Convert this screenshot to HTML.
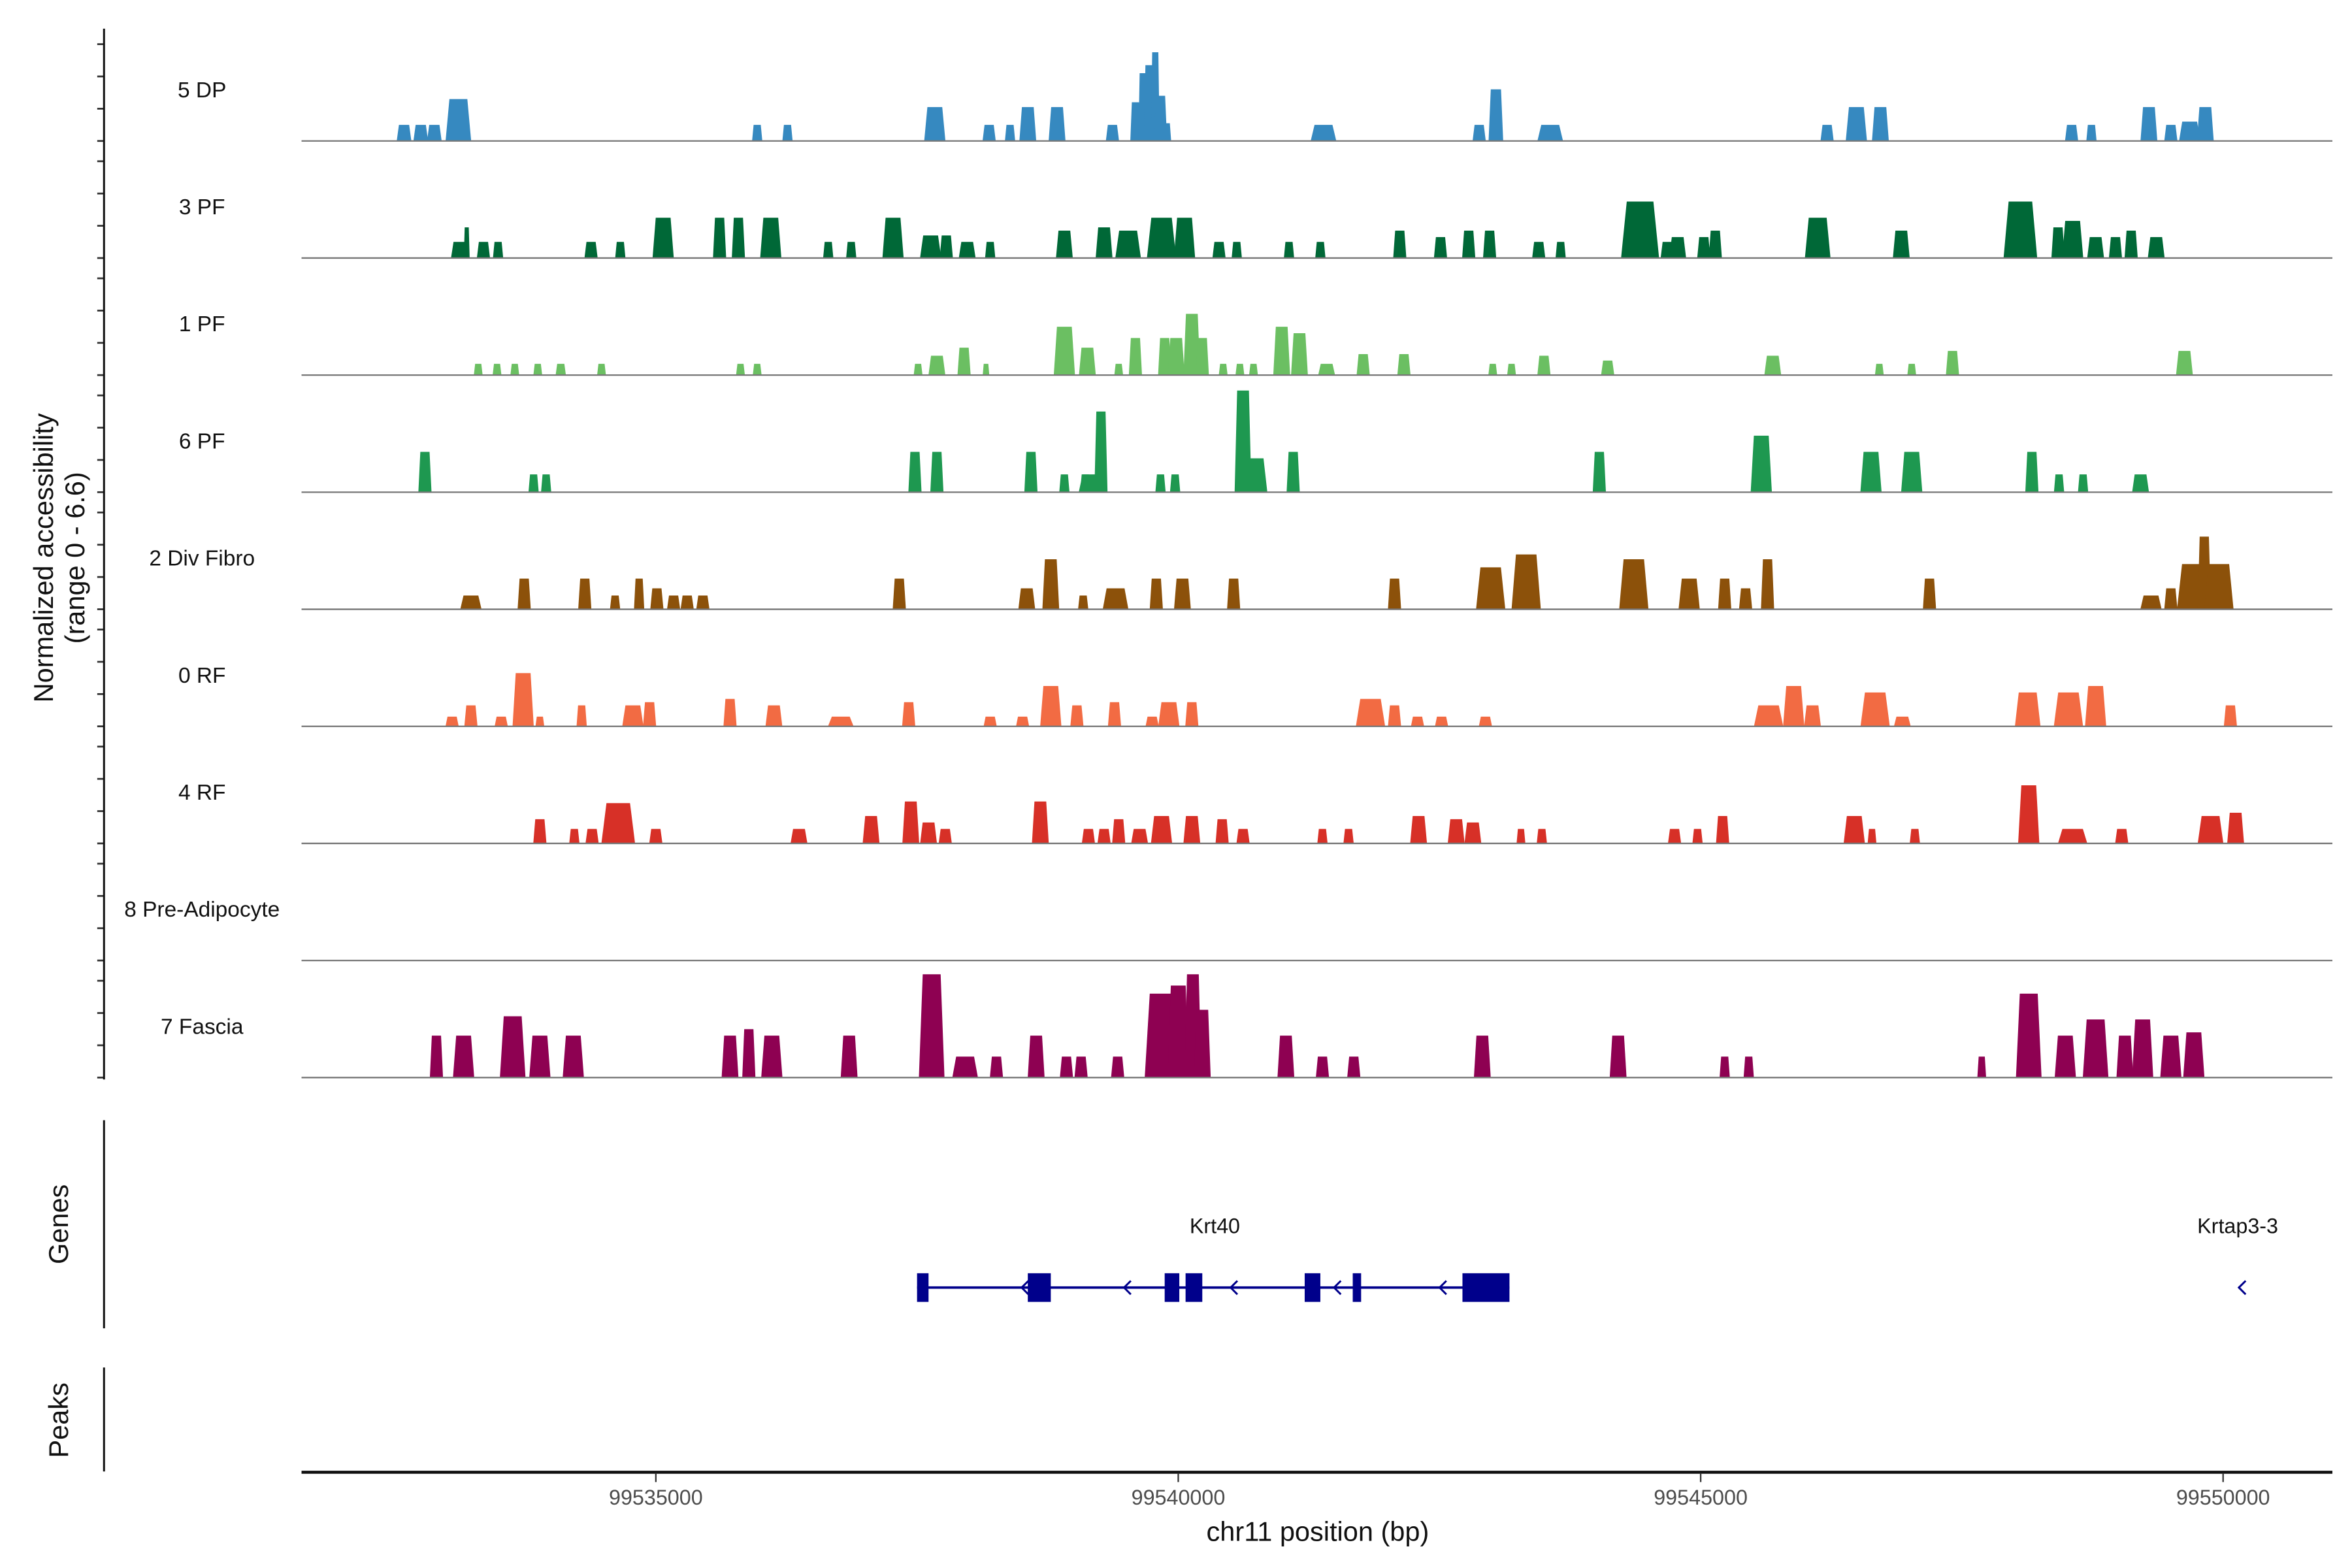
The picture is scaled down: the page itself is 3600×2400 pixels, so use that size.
<!DOCTYPE html>
<html><head><meta charset="utf-8">
<style>
html,body{margin:0;padding:0;background:#fff;}
svg{display:block;font-family:"Liberation Sans",sans-serif;}
</style></head>
<body>
<svg id="chart" width="3600" height="2400" viewBox="0 0 1560 1040" preserveAspectRatio="none" xmlns="http://www.w3.org/2000/svg">
<g id="tracks"></g>
<g id="genes"></g>
<g id="axes"></g>
</svg>
<script>
// ---- data ----
const trackNames = ["5 DP","3 PF","1 PF","6 PF","2 Div Fibro","0 RF","4 RF","8 Pre-Adipocyte","7 Fascia"];
const trackColors = ["#3689c0","#006837","#6bbf62","#1e9850","#8c510a","#f26b43","#d73027","#999999","#8e0152"];
// peak centers in kb offset from 99530000
const pos5DP = [2.59,2.75,2.88,3.11,5.97,6.26,7.67,8.19,8.39,8.56,8.84,9.37,9.59,9.66,9.72,9.78,9.83,9.89,11.39,12.88,13.04,13.56,16.21,16.49,16.72,18.55,18.74,19.29,19.50,19.68,19.83];
const wid5DP = [100,100,100,175,70,70,145,90,70,115,115,90,70,60,70,60,90,60,175,90,100,175,90,145,115,90,70,115,90,145,115];
const val5DP = [1.0,1.0,1.0,2.6,1.0,1.0,2.1,1.0,1.0,2.1,2.1,1.0,2.4,4.2,4.7,5.5,2.8,1.1,1.0,1.0,3.2,1.0,1.0,2.1,2.1,1.0,1.0,2.1,1.0,1.2,2.1];

const pos3PF = [3.12,3.19,3.35,3.49,4.38,4.66,5.07,5.61,5.79,6.10,6.65,6.87,7.27,7.63,7.78,7.98,8.20,8.91,9.29,9.52,9.84,10.06,10.39,10.56,11.06,11.36,12.12,12.51,12.78,12.98,13.45,13.66,14.42,14.68,14.78,15.03,15.14,16.12,16.92,18.06,18.42,18.56,18.78,18.97,19.12,19.36];
const wid3PF = [115,40,90,70,90,70,145,90,90,145,70,70,145,145,90,115,70,115,115,175,200,145,90,70,70,70,90,90,90,90,90,70,260,90,115,90,90,175,115,230,90,145,115,90,90,115];
const val3PF = [1.0,1.9,1.0,1.0,1.0,1.0,2.5,2.5,2.5,2.5,1.0,1.0,2.5,1.4,1.4,1.0,1.0,1.7,1.9,1.7,2.5,2.5,1.0,1.0,1.0,1.0,1.7,1.3,1.7,1.7,1.0,1.0,3.5,1.0,1.3,1.3,1.7,2.5,1.7,3.5,1.9,2.3,1.3,1.3,1.7,1.3];

const pos1PF = [3.30,3.48,3.65,3.87,4.09,4.48,5.81,5.97,7.51,7.69,7.95,8.16,8.91,9.13,9.43,9.59,9.87,9.98,10.13,10.23,10.43,10.59,10.72,10.99,11.16,11.42,11.77,12.16,13.01,13.19,13.50,14.11,15.69,16.71,17.02,17.41,19.63];
const wid1PF = [60,60,60,60,70,60,60,60,60,115,90,45,145,115,60,90,90,115,115,90,60,60,60,115,115,115,90,90,60,60,90,90,115,60,60,90,115];
const val1PF = [0.7,0.7,0.7,0.7,0.7,0.7,0.7,0.7,0.7,1.2,1.7,0.7,3.0,1.7,0.7,2.3,2.3,2.3,3.8,2.3,0.7,0.7,0.7,3.0,2.6,0.7,1.3,1.3,0.7,0.7,1.2,0.9,1.2,0.7,0.7,1.5,1.5];

const pos6PF = [2.79,3.83,3.95,7.48,7.69,8.59,8.91,9.11,9.17,9.26,9.83,9.97,10.62,10.73,11.10,14.03,15.58,16.63,17.02,18.17,18.43,18.66,19.21];
const wid6PF = [90,70,70,90,90,90,70,70,175,90,70,70,115,175,90,90,145,145,145,90,70,70,115];
const val6PF = [2.5,1.1,1.1,2.5,2.5,2.5,1.1,1.1,1.1,5.0,1.1,1.1,6.3,2.1,2.5,2.5,3.5,2.5,2.5,2.5,1.1,1.1,1.1];

const posDF = [3.23,3.74,4.32,4.61,4.84,5.01,5.17,5.30,5.45,7.33,8.55,8.78,9.09,9.40,9.79,10.04,10.53,12.07,12.99,13.33,14.36,14.89,15.23,15.43,15.64,17.19,19.31,19.50,19.72,19.82,19.96];
const widDF = [145,90,90,70,70,90,90,90,90,90,115,115,70,175,90,115,90,90,200,200,200,145,90,90,90,90,145,90,230,90,200];
const valDF = [0.85,1.9,1.9,0.85,1.9,1.3,0.85,0.85,0.85,1.9,1.3,3.1,0.85,1.3,1.9,1.9,1.9,1.9,2.6,3.4,3.1,1.9,1.9,1.3,3.1,1.9,0.85,1.3,2.8,4.5,2.8];

const pos0RF = [3.05,3.23,3.52,3.73,3.89,4.29,4.78,4.94,5.71,6.13,6.77,7.42,8.20,8.51,8.78,9.03,9.39,9.75,9.91,10.13,11.84,12.07,12.29,12.52,12.94,15.65,15.89,16.07,16.67,16.93,18.13,18.52,18.78,20.07];
const wid0RF = [90,90,90,145,60,70,145,90,90,115,175,90,90,90,145,90,90,90,145,90,200,90,90,90,90,200,145,115,200,115,175,200,145,90];
const val0RF = [0.6,1.3,0.6,3.3,0.6,1.3,1.3,1.5,1.7,1.3,0.6,1.5,0.6,0.6,2.5,1.3,1.5,0.6,1.5,1.5,1.7,1.3,0.6,0.6,0.6,1.3,2.5,1.3,2.1,0.6,2.1,2.1,2.5,1.3];

const pos4RF = [3.89,4.22,4.39,4.64,5.00,6.37,7.06,7.44,7.61,7.77,8.68,9.14,9.29,9.43,9.63,9.84,10.13,10.42,10.62,11.38,11.63,12.30,12.66,12.82,13.28,13.48,14.75,14.97,15.21,16.47,16.64,17.05,18.14,18.56,19.03,19.88,20.12];
const wid4RF = [90,70,90,230,90,115,115,115,115,90,115,90,90,90,115,145,115,90,90,70,70,115,115,115,60,70,90,70,90,145,60,70,145,200,90,175,115];
const val4RF = [1.5,0.9,0.9,2.5,0.9,0.9,1.7,2.6,1.3,0.9,2.6,0.9,0.9,1.5,0.9,1.7,1.7,1.5,0.9,0.9,0.9,1.7,1.5,1.3,0.9,0.9,0.9,0.9,1.7,1.7,0.9,0.9,3.6,0.9,0.9,1.7,1.9];

const posPA = [];
const widPA = [];
const valPA = [];

const posFA = [2.90,3.16,3.63,3.89,4.21,5.71,5.89,6.11,6.85,7.64,7.96,8.26,8.64,8.93,9.07,9.42,9.84,10.00,10.14,10.23,11.03,11.38,11.68,12.91,14.21,15.23,15.46,17.69,18.14,18.49,18.78,19.06,19.23,19.50,19.72];
const widFA = [90,145,175,145,145,115,90,145,115,175,175,90,115,90,90,90,230,145,115,115,115,90,90,115,115,70,70,60,175,145,175,115,145,145,145];
const valFA = [2.6,2.6,3.8,2.6,2.6,2.6,3.0,2.6,2.6,6.4,1.3,1.3,2.6,1.3,1.3,1.3,5.2,5.7,6.4,4.2,2.6,1.3,1.3,2.6,2.6,1.3,1.3,1.3,5.2,2.6,3.6,2.6,3.6,2.6,2.8];

const trackPos = [pos5DP,pos3PF,pos1PF,pos6PF,posDF,pos0RF,pos4RF,posPA,posFA];
const trackWid = [wid5DP,wid3PF,wid1PF,wid6PF,widDF,wid0RF,wid4RF,widPA,widFA];
const trackVal = [val5DP,val3PF,val1PF,val6PF,valDF,val0RF,val4RF,valPA,valFA];

const xTicks = [99535000,99540000,99545000,99550000];
const yTickVals = [0,2,4,6];
const exonStart = [7.50,8.56,9.87,10.07,11.21,11.67,12.72];
const exonEnd = [7.61,8.78,10.01,10.23,11.36,11.75,13.17];
const chevronPos = [8.53,9.51,10.53,11.52,12.53];
const geneLabels = ["Krt40","Krtap3-3"];
const geneLabelPos = [10.35,20.14];
const krtapChevron = [20.18];

// ---- scales ----
const NS="http://www.w3.org/2000/svg";
const ORIGIN = 99530000;
function xs(kb){ return 435 + (kb-5)*69.3; }
function xsBp(bp){ return xs((bp-ORIGIN)/1000); }
const PXUNIT = 10.7;
const WIDEN = 1.4;
function baseY(i){ return 93.5 + i*77.65; }
function mk(tag, attrs, parent){
  const e=document.createElementNS(NS,tag);
  for(const k in attrs) e.setAttribute(k,attrs[k]);
  parent.appendChild(e); return e;
}
const gT=document.getElementById('tracks');
const gG=document.getElementById('genes');
const gA=document.getElementById('axes');

// tracks
for(let i=0;i<trackNames.length;i++){
  const by=baseY(i);
  const lab=mk('text',{x:134,y:by-29,'text-anchor':'middle','font-size':14.5,fill:'#111'},gT);
  lab.textContent=trackNames[i];
  
  
  const ps=trackPos[i], ws=trackWid[i], vs=trackVal[i];
  for(let j=0;j<ps.length;j++){
    const cx=xs(ps[j]), hw=WIDEN*ws[j]/1000*69.3/2, h=vs[j]*PXUNIT;
    const pts=[[cx-hw,by],[cx-hw*0.7,by-h],[cx+hw*0.7,by-h],[cx+hw,by]].map(p=>p.join(',')).join(' ');
    const pk=mk('polygon',{points:pts,fill:trackColors[i]},gT);
    
    
  }
  const bl=mk('line',{x1:200,x2:1547,y1:by,y2:by,stroke:'#777','stroke-width':1},gT);
  
  
  for(const t of yTickVals){
    const ty=by-t*PXUNIT;
    const tk=mk('line',{x1:64.5,x2:69,y1:ty,y2:ty,stroke:'#333','stroke-width':1.2},gA);
    
    
  }
}
// y axis lines
let ax=mk('line',{x1:69,x2:69,y1:19,y2:716,stroke:'#111','stroke-width':1.3},gA);
 
ax=mk('line',{x1:69,x2:69,y1:743,y2:881,stroke:'#111','stroke-width':1.3},gA);
 
ax=mk('line',{x1:69,x2:69,y1:907,y2:976,stroke:'#111','stroke-width':1.3},gA);
 

let t=mk('text',{x:0,y:0,'text-anchor':'middle','font-size':18,fill:'#111',transform:'translate(35,370) rotate(-90)'},gA);
t.textContent='Normalized accessibility';
 
t=mk('text',{x:0,y:0,'text-anchor':'middle','font-size':18,fill:'#111',transform:'translate(56,370) rotate(-90)'},gA);
t.textContent='(range 0 - 6.6)';
 
t=mk('text',{x:0,y:0,'text-anchor':'middle','font-size':18,fill:'#111',transform:'translate(45,812) rotate(-90)'},gA);
t.textContent='Genes';
 
t=mk('text',{x:0,y:0,'text-anchor':'middle','font-size':18,fill:'#111',transform:'translate(45,942) rotate(-90)'},gA);
t.textContent='Peaks';
 

// x axis
ax=mk('line',{x1:200,x2:1547,y1:976.5,y2:976.5,stroke:'#111','stroke-width':2},gA);
 
for(const v of xTicks){
  const x=xsBp(v);
  const tk=mk('line',{x1:x,x2:x,y1:977,y2:983,stroke:'#333','stroke-width':1},gA);
   
  const tl=mk('text',{x:x,y:998,'text-anchor':'middle','font-size':14,fill:'#4d4d4d'},gA);
  tl.textContent=String(v);
   
}
t=mk('text',{x:874,y:1022,'text-anchor':'middle','font-size':18,fill:'#111'},gA);
t.textContent='chr11 position (bp)';
 

// genes
const GY=854;
let gl=mk('line',{x1:xs(exonStart[0]),x2:xs(exonEnd[exonEnd.length-1]),y1:GY,y2:GY,stroke:'#00008b','stroke-width':1.6},gG);
 
for(let k=0;k<exonStart.length;k++){
  const x1=xs(exonStart[k]), x2=xs(exonEnd[k]);
  const r=mk('rect',{x:x1,y:GY-9.5,width:Math.max(x2-x1,2),height:19,fill:'#00008b'},gG);
   
}
for(const c of chevronPos.concat(krtapChevron)){
  const x=xs(c);
  const p=mk('polyline',{points:`${x+2.5},${GY-4.5} ${x-2},${GY} ${x+2.5},${GY+4.5}`,fill:'none',stroke:'#00008b','stroke-width':1.3},gG);
   
}
for(let k=0;k<geneLabels.length;k++){
  const gt=mk('text',{x:xs(geneLabelPos[k]),y:818,'text-anchor':'middle','font-size':14,fill:'#111'},gG);
  gt.textContent=geneLabels[k];
   
}
</script>
</body></html>
